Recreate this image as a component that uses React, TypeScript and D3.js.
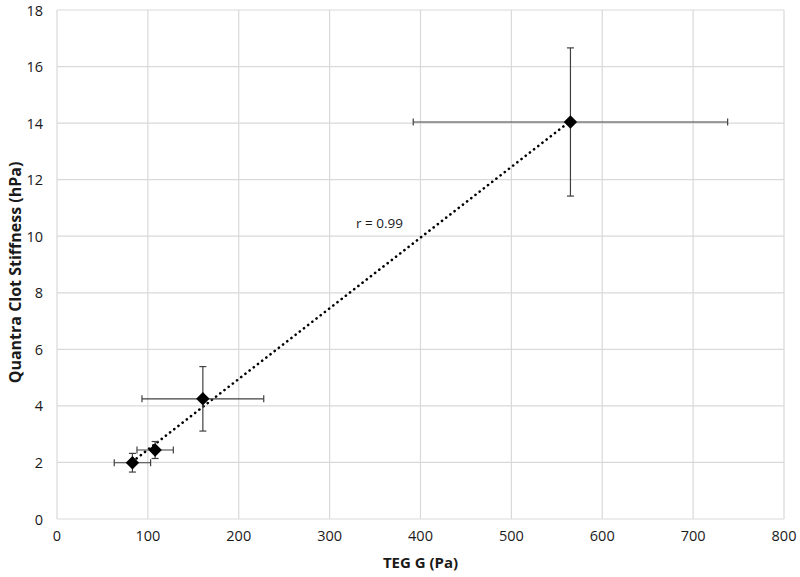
import * as d3 from 'd3';

// TEG G (Pa) vs Quantra clot stiffness (hPa)
const tegG = [83, 108, 160.5, 565];
const tegErr = [20, 20, 67, 173];
const clotStiffness = [1.99, 2.44, 4.25, 14.04];
const clotErr = [0.33, 0.3, 1.14, 2.62];
const xTicks = [0, 100, 200, 300, 400, 500, 600, 700, 800];
const yTicks = [0, 2, 4, 6, 8, 10, 12, 14, 16, 18];

const width = 800;
const height = 577;
const margin = { top: 10, right: 16, bottom: 58, left: 57 };
const font = "'Open Sans', 'Noto Sans', sans-serif";

const App = () => {
    const x = d3.scaleLinear().domain([0, 800]).range([margin.left, width - margin.right]);
    const y = d3.scaleLinear().domain([0, 18]).range([height - margin.bottom, margin.top]);

    // least squares fit for the dotted trend line
    const mx = d3.mean(tegG) as number;
    const my = d3.mean(clotStiffness) as number;
    const slope =
        d3.sum(tegG, (v, i) => (v - mx) * (clotStiffness[i] - my)) / d3.sum(tegG, (v) => (v - mx) ** 2);
    const icpt = my - slope * mx;
    const x0 = d3.min(tegG) as number;
    const x1 = d3.max(tegG) as number;
    const trend = d3.line<number>()
        .x((d) => x(d))
        .y((d) => y(icpt + slope * d))([x0, x1]) as string;

    const diamond = d3.symbol(d3.symbolSquare, 90)() as string;
    const cap = 3.5;
    const grid = '#d9d9d9';
    const bar = '#404040';

    return (
        <svg width={width} height={height} style={{ position: 'absolute', left: 0, top: 0, background: '#fff' }}>
            {xTicks.map((t) => (
                <line key={'gx' + t} x1={x(t)} x2={x(t)} y1={y(0)} y2={y(18)} stroke={grid} strokeWidth={1.2} />
            ))}
            {yTicks.map((t) => (
                <line key={'gy' + t} x1={x(0)} x2={x(800)} y1={y(t)} y2={y(t)} stroke={grid} strokeWidth={1.2} />
            ))}
            {xTicks.map((t) => (
                <text key={'tx' + t} x={x(t)} y={y(0) + 22} textAnchor="middle" fontFamily={font} fontSize={14.5} fill="#1a1a1a">
                    {t}
                </text>
            ))}
            {yTicks.map((t) => (
                <text key={'ty' + t} x={x(0) - 14} y={y(t) + 5.5} textAnchor="end" fontFamily={font} fontSize={14.5} fill="#1a1a1a">
                    {t}
                </text>
            ))}
            <text x={(x(0) + x(800)) / 2} y={568} textAnchor="middle" fontFamily={font} fontSize={15} fontWeight="bold" fill="#1a1a1a">
                TEG G (Pa)
            </text>
            <text
                transform={`translate(21,${(y(0) + y(18)) / 2 + 8}) rotate(-90)`}
                textAnchor="middle"
                fontFamily={font}
                fontSize={16}
                fontWeight="bold"
                fill="#1a1a1a"
            >
                Quantra Clot Stiffness (hPa)
            </text>
            <path d={trend} fill="none" stroke="#000" strokeWidth={2.6} strokeDasharray="0.1 5.2" strokeLinecap="round" />
            {tegG.map((v, i) => {
                const cx = x(v);
                const cy = y(clotStiffness[i]);
                const xl = x(v - tegErr[i]);
                const xr = x(v + tegErr[i]);
                const yt = y(clotStiffness[i] + clotErr[i]);
                const yb = y(clotStiffness[i] - clotErr[i]);
                return (
                    <g key={'p' + i} stroke={bar} strokeWidth={1.2}>
                        <line x1={xl} x2={xr} y1={cy} y2={cy} />
                        <line x1={xl} x2={xl} y1={cy - cap} y2={cy + cap} />
                        <line x1={xr} x2={xr} y1={cy - cap} y2={cy + cap} />
                        <line x1={cx} x2={cx} y1={yt} y2={yb} />
                        <line x1={cx - cap} x2={cx + cap} y1={yt} y2={yt} />
                        <line x1={cx - cap} x2={cx + cap} y1={yb} y2={yb} />
                        <path d={diamond} transform={`translate(${cx},${cy}) rotate(45)`} fill="#000" stroke="none" />
                    </g>
                );
            })}
            <text x={356} y={228} fontFamily={font} fontSize={13.5} fill="#1a1a1a">
                r = 0.99
            </text>
        </svg>
    );
};

export default App;
